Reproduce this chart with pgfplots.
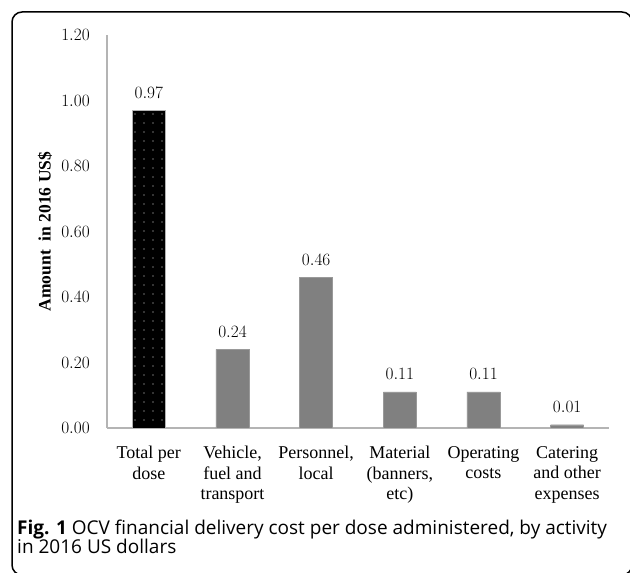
\documentclass[border=0pt]{standalone}
\usepackage{pgfplots}
\pgfplotsset{compat=1.18}
\usetikzlibrary{patterns.meta}
\usepackage{fontspec}
\setmainfont{Liberation Serif}
\newfontfamily\capfont{Open Sans}
\definecolor{axisgray}{RGB}{180,180,180}
\definecolor{bargray}{RGB}{128,128,128}

\begin{document}
\begin{tikzpicture}[x=1pt,y=1pt]
\useasboundingbox (0,0) rectangle (630,573);
\begin{scope}
  \clip (0,0) rectangle (630,573);
  \draw[line width=1.5pt, rounded corners=10pt] (12,-2) rectangle (632,561);
\end{scope}

\begin{axis}[
    at={(107pt,145pt)}, anchor=south west,
    width=502pt, height=393pt, scale only axis,
    ymin=0, ymax=1.2, xmin=-0.5, xmax=5.5,
    axis x line*=bottom, axis y line*=left,
    axis line style={axisgray, line width=1.2pt},
    major tick length=0pt,
    ytick={0,0.2,0.4,0.6,0.8,1.0,1.2},
    xtick={0,1,2,3,4,5},
    xticklabels={{Total per\\dose}, {Vehicle,\\fuel and\\transport}, {Personnel,\\local},
                 {Material\\(banners,\\etc)}, {Operating\\costs}, {Catering\\and other\\expenses}},
    yticklabel style={/pgf/number format/fixed, /pgf/number format/fixed zerofill,
        /pgf/number format/precision=2, font=\fontsize{18}{20}\selectfont,
        inner sep=0pt, xshift=-17pt},
    xticklabel style={align=center, font=\fontsize{18}{20.5}\selectfont,
        inner sep=0pt, anchor=north, yshift=-18pt},
    ylabel={\textbf{Amount\ \ in 2016 US\$}},
    ylabel style={at={(axis description cs:-0.1235,0.5)}, anchor=center,
        font=\fontsize{17.5}{20}\selectfont},
    ybar, bar width=33pt,
    nodes near coords,
    every node near coord/.append style={font=\fontsize{18}{20}\selectfont,
        /pgf/number format/fixed, /pgf/number format/fixed zerofill,
        /pgf/number format/precision=2, anchor=base, inner sep=0pt, yshift=12pt},
]
\addplot[bar shift=0pt, fill=black, draw=gray!60,
    postaction={pattern={Dots[distance=9pt, radius=0.7pt]}, pattern color=white!80!gray}]
    coordinates {(0,0.97)};
\addplot[bar shift=0pt, fill=bargray, draw=bargray!80]
    coordinates {(1,0.24) (2,0.46) (3,0.11) (4,0.11) (5,0.01)};
\end{axis}

\node[anchor=base west, inner sep=0pt, font=\capfont\fontsize{19}{20}\selectfont]
    at (17,38) {\textbf{Fig. 1} OCV financial delivery cost per dose administered, by activity};
\node[anchor=base west, inner sep=0pt, font=\capfont\fontsize{19}{20}\selectfont]
    at (17,19) {in 2016 US dollars};
\end{tikzpicture}
\end{document}
